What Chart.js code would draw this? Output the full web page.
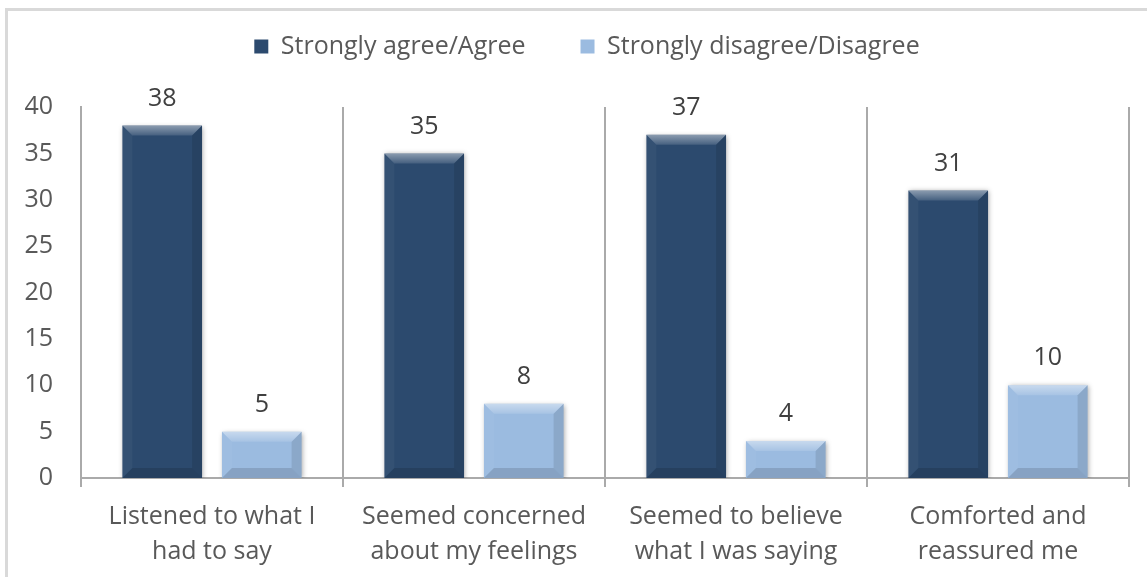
<!DOCTYPE html>
<html>
<head>
<meta charset="utf-8">
<script src="https://cdn.jsdelivr.net/npm/chart.js@4.4.1/dist/chart.umd.min.js"></script>
<style>
  html, body { margin: 0; padding: 0; background: #ffffff; overflow: hidden; }
  #wrap { position: relative; width: 1147px; height: 577px; }
  #frame { position: absolute; left: 5px; top: 8px; right: -10px; bottom: -10px;
           border-left: 3px solid #d9d9d9; border-top: 3px solid #d9d9d9; pointer-events: none; }
  canvas { position: absolute; left: 0; top: 0; }
</style>
</head>
<body>
<div id="wrap">
  <canvas id="c" width="1147" height="577"></canvas>
  <div id="frame"></div>
</div>
<script>
// ---- data ----
const categories = [
  ["Listened to what I", "had to say"],
  ["Seemed concerned", "about my feelings"],
  ["Seemed to believe", "what I was saying"],
  ["Comforted and", "reassured me"]
];
const seriesNames = ["Strongly agree/Agree", "Strongly disagree/Disagree"];
const agreeValues = [38, 35, 37, 31];
const disagreeValues = [5, 8, 4, 10];
const yTicks = { min: 0, max: 40, step: 5 };

// ---- styles ----
const FONT = "'Open Sans'";
const FS = 25;
const seriesColors = ["#2c4a6e", "#9bbbe0"];
const axisColor = "#aaaaaa";
const textColor = "#595959";

const shadowBevelPlugin = {
  id: "shadowBevel",
  afterLayout(chart) {
    // shift legend block so it is centred as in the original
    if (chart.legend) chart.legend.left = 45;
  },
  beforeDatasetsDraw(chart) {
    const c = chart.ctx;
    c.save();
    c.shadowColor = "rgba(0,0,0,0.35)";
    c.shadowBlur = 5;
    c.shadowOffsetX = 1;
    c.shadowOffsetY = 1;
  },
  afterDatasetsDraw(chart) {
    const c = chart.ctx;
    c.restore();
    const poly = (pts, fill) => {
      c.beginPath();
      c.moveTo(pts[0][0], pts[0][1]);
      for (let i = 1; i < pts.length; i++) c.lineTo(pts[i][0], pts[i][1]);
      c.closePath();
      c.fillStyle = fill;
      c.fill();
    };
    chart.data.datasets.forEach((ds, di) => {
      const meta = chart.getDatasetMeta(di);
      if (meta.hidden) return;
      meta.data.forEach((el, i) => {
        const p = el.getProps(["x", "y", "base", "width"], true);
        const l = p.x - p.width / 2, r = p.x + p.width / 2;
        const t = Math.min(p.y, p.base), b = Math.max(p.y, p.base);
        const s = Math.min(10, (b - t) / 2);
        c.save();
        const g = c.createLinearGradient(0, t, 0, t + s);
        g.addColorStop(0, "rgba(255,255,255,0.45)");
        g.addColorStop(1, "rgba(255,255,255,0.12)");
        poly([[l, t], [r, t], [r - s, t + s], [l + s, t + s]], g);
        poly([[r, t], [r, b], [r - s, b - s], [r - s, t + s]], "rgba(0,0,0,0.10)");
        poly([[l, b], [r, b], [r - s, b - s], [l + s, b - s]], "rgba(0,0,0,0.13)");
        poly([[l, t], [l + s, t + s], [l + s, b - s], [l, b]], "rgba(255,255,255,0.04)");
        c.restore();
        // value label
        c.save();
        c.font = FS + "px " + FONT;
        c.fillStyle = "#404040";
        c.textAlign = "center";
        c.textBaseline = "middle";
        c.fillText(String(ds.data[i]), p.x, t - 27);
        c.restore();
      });
    });
  }
};

new Chart(document.getElementById("c"), {
  type: "bar",
  data: {
    labels: categories,
    datasets: [
      { label: seriesNames[0], data: agreeValues, backgroundColor: seriesColors[0], borderWidth: 0 },
      { label: seriesNames[1], data: disagreeValues, backgroundColor: seriesColors[1], borderWidth: 0 }
    ]
  },
  options: {
    responsive: false,
    devicePixelRatio: 1,
    animation: false,
    categoryPercentage: 0.76,
    barPercentage: 0.8,
    layout: { padding: { top: -21, left: 0, right: 18, bottom: -4 } },
    plugins: {
      tooltip: { enabled: false },
      title: { display: true, text: "", weight: 2000, padding: { top: 37, bottom: 0 },
               font: { size: 1, lineHeight: 1 } },
      legend: {
        position: "top",
        weight: 3000,
        labels: {
          boxWidth: 14, boxHeight: 14, padding: 55,
          color: textColor,
          font: { family: FONT, size: FS }
        }
      }
    },
    scales: {
      x: {
        grid: { display: true, drawOnChartArea: true, drawTicks: true, tickLength: 9,
                color: axisColor, lineWidth: 2, offset: true },
        border: { display: true, color: axisColor, width: 2 },
        ticks: { color: textColor, padding: 12, maxRotation: 0, autoSkip: false,
                 font: { family: FONT, size: FS, lineHeight: 35 / FS } }
      },
      y: {
        min: yTicks.min, max: yTicks.max,
        grid: { display: false, drawTicks: false },
        border: { display: true, color: axisColor, width: 2 },
        ticks: { stepSize: yTicks.step, color: textColor, padding: 28,
                 font: { family: FONT, size: FS } },
        afterFit(scale) { scale.width = 81; }
      }
    }
  },
  plugins: [shadowBevelPlugin]
});
</script>
</body>
</html>
